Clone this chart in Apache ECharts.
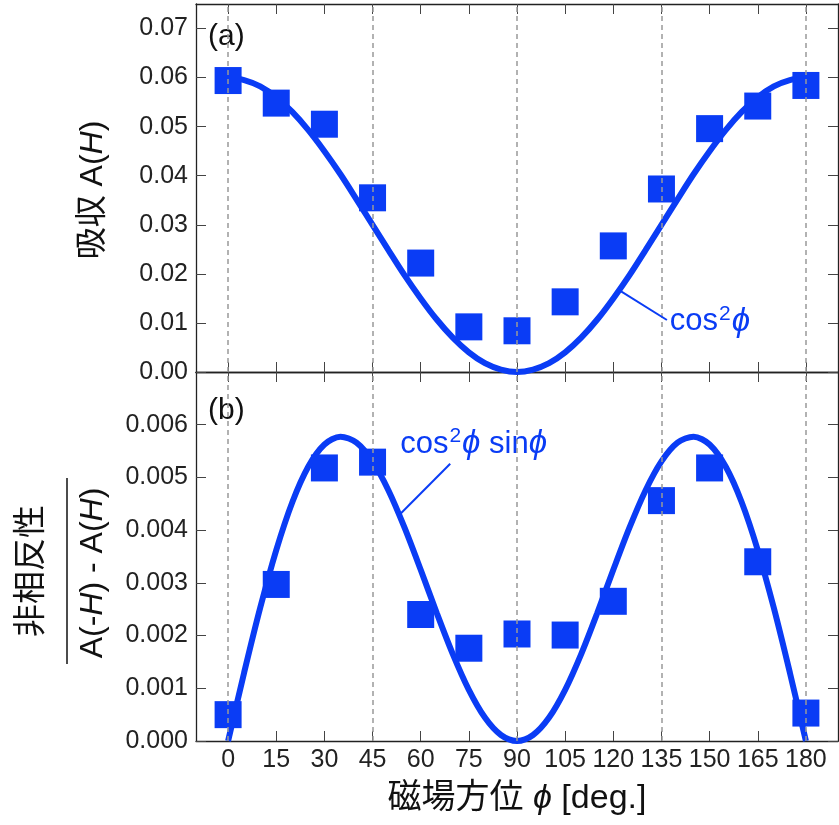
<!DOCTYPE html>
<html><head><meta charset="utf-8">
<script src="https://cdn.jsdelivr.net/npm/echarts@6/dist/echarts.min.js"></script>
<style>html,body{margin:0;padding:0;background:#fff}#c{width:839px;height:825px}</style>
</head><body><div id="c"></div>
<script>
// ---- data ----
const phiDeg = [0, 15, 30, 45, 60, 75, 90, 105, 120, 135, 150, 165, 180];
const absorption = [0.0594, 0.0548, 0.0505, 0.0355, 0.0222, 0.0092, 0.0084, 0.0143, 0.0257, 0.0373, 0.0496, 0.0542, 0.0584];
const nonreciprocity = [0.00050, 0.00297, 0.00518, 0.00529, 0.00240, 0.00176, 0.00203, 0.00201, 0.00265, 0.00456, 0.00518, 0.00340, 0.00053];
// fitted curves read at 5-degree steps
const curvePhi = [0,5,10,15,20,25,30,35,40,45,50,55,60,65,70,75,80,85,90,95,100,105,110,115,120,125,130,135,140,145,150,155,160,165,170,175,180];
const curveA = [0.0600,0.0595,0.0582,0.0560,0.0530,0.0493,0.0450,0.0403,0.0352,0.0300,0.0248,0.0197,0.0150,0.0107,0.0070,0.0040,0.0018,0.0005,0.0000,
                0.0005,0.0018,0.0040,0.0070,0.0107,0.0150,0.0197,0.0248,0.0300,0.0352,0.0403,0.0450,0.0493,0.0530,0.0560,0.0582,0.0595,0.0600];
const curveB = [0.000000,0.001298,0.002526,0.003622,0.004530,0.005207,0.005625,0.005773,0.005658,0.005303,0.004748,0.004042,0.003248,0.002428,0.001649,0.000971,0.000445,0.000114,0.000000,
                0.000114,0.000445,0.000971,0.001649,0.002428,0.003248,0.004042,0.004748,0.005303,0.005658,0.005773,0.005625,0.005207,0.004530,0.003622,0.002526,0.001298,0.000000];
const xTicks = [0, 15, 30, 45, 60, 75, 90, 105, 120, 135, 150, 165, 180];
const yTicksTop = [0, 0.01, 0.02, 0.03, 0.04, 0.05, 0.06, 0.07];
const yTicksBottom = [0, 0.001, 0.002, 0.003, 0.004, 0.005, 0.006];
const dashedAt = [0, 45, 90, 135, 180];
const xRange = [-10, 190];
const yRangeTop = [0, 0.075];
const yRangeBottom = [0, 0.007];

const BLUE = '#0a3cf5';
const FONT = '"Liberation Sans", "Noto Sans CJK JP", sans-serif';
const PHI = 'ϕ';
const chart = echarts.init(document.getElementById('c'));

function xAx(grid, pos, labels) {
  return {
    type: 'value', gridIndex: grid, position: pos, min: xRange[0], max: xRange[1],
    axisLine: { show: true, onZero: false, lineStyle: { color: '#222', width: 1.3 } },
    axisTick: { show: true, inside: true, length: 10, customValues: xTicks, lineStyle: { color: '#444', width: 1 } },
    axisLabel: { show: labels, customValues: xTicks, color: '#222', fontSize: 25, fontFamily: FONT, margin: 7 },
    splitLine: { show: false }
  };
}
function yAx(grid, pos, labels, range, ticks, dec) {
  return {
    type: 'value', gridIndex: grid, position: pos, min: range[0], max: range[1],
    axisLine: { show: true, onZero: false, lineStyle: { color: '#222', width: 1.3 } },
    axisTick: { show: true, inside: true, length: 10, customValues: ticks, lineStyle: { color: '#444', width: 1 } },
    axisLabel: { show: labels, customValues: ticks, color: '#222', fontSize: 25, fontFamily: FONT, margin: 8,
                 formatter: v => v.toFixed(dec) },
    splitLine: { show: false }
  };
}
const dashLines = dashedAt.map(v => ({ xAxis: v, lineStyle: { type: [5, 4], color: '#999', width: 1.5 } }));

const option = {
  animation: false,
  grid: [
    { left: 196, top: 4, width: 642, height: 368 },
    { left: 196, top: 372, width: 642, height: 369 }
  ],
  xAxis: [
    xAx(0, 'bottom', false), xAx(0, 'top', false),
    Object.assign(xAx(1, 'bottom', true), {
      name: '磁場方位 {i|' + PHI + '} [deg.]', nameLocation: 'middle', nameGap: 41,
      nameTextStyle: { fontSize: 34, fontFamily: FONT, color: '#111',
        rich: { i: { fontSize: 34, fontStyle: 'italic', fontFamily: FONT, color: '#111' } } }
    }),
    xAx(1, 'top', false)
  ],
  yAxis: [
    yAx(0, 'left', true, yRangeTop, yTicksTop, 2), yAx(0, 'right', false, yRangeTop, yTicksTop, 2),
    yAx(1, 'left', true, yRangeBottom, yTicksBottom, 3), yAx(1, 'right', false, yRangeBottom, yTicksBottom, 3)
  ],
  series: [
    { type: 'line', xAxisIndex: 0, yAxisIndex: 0, data: curvePhi.map((p, i) => [p, curveA[i]]),
      smooth: 0.3, showSymbol: false, lineStyle: { color: BLUE, width: 6 }, z: 3, clip: true,
      markLine: { silent: true, symbol: 'none', label: { show: false }, animation: false,
        data: dashLines.concat([[{ coord: [121.8, 0.0167], lineStyle: { color: BLUE, width: 2, type: 'solid' } },
                                 { coord: [136.7, 0.0106] }]]) } },
    { type: 'scatter', xAxisIndex: 0, yAxisIndex: 0, data: phiDeg.map((p, i) => [p, absorption[i]]),
      symbol: 'rect', symbolSize: 27, itemStyle: { color: BLUE, opacity: 1 }, z: 4 },
    { type: 'line', xAxisIndex: 2, yAxisIndex: 2, data: curvePhi.map((p, i) => [p, curveB[i]]),
      smooth: 0.3, showSymbol: false, lineStyle: { color: BLUE, width: 6 }, z: 3, clip: true,
      markLine: { silent: true, symbol: 'none', label: { show: false }, animation: false,
        data: dashLines.concat([[{ coord: [53.7, 0.00431], lineStyle: { color: BLUE, width: 2, type: 'solid' } },
                                 { coord: [69.2, 0.00526] }]]) } },
    { type: 'scatter', xAxisIndex: 2, yAxisIndex: 2, data: phiDeg.map((p, i) => [p, nonreciprocity[i]]),
      symbol: 'rect', symbolSize: 27, itemStyle: { color: BLUE, opacity: 1 }, z: 4 }
  ]
};
chart.setOption(option);

const pA = chart.convertToPixel({ xAxisIndex: 0, yAxisIndex: 0 }, [137.6, 0.0102]);
const pB = chart.convertToPixel({ xAxisIndex: 2, yAxisIndex: 2 }, [53.6, 0.00563]);
const richAnn = {
  t: { fontSize: 31, fontFamily: FONT, fill: BLUE },
  s: { fontSize: 21, fontFamily: FONT, fill: BLUE, padding: [0, 1, 16, 1] },
  i: { fontStyle: 'italic', fontSize: 33, fontFamily: FONT, fill: BLUE }
};
chart.setOption({
  graphic: [
    { type: 'text', left: 208, top: 22, style: { text: '(a)', font: '30px ' + FONT, fill: '#111' } },
    { type: 'text', left: 208, top: 396, style: { text: '(b)', font: '30px ' + FONT, fill: '#111' } },
    { type: 'text', x: pA[0], y: pA[1], style: { text: '{t|cos}{s|2}{i|' + PHI + '}', font: '31px ' + FONT, fill: BLUE,
        textAlign: 'left', textVerticalAlign: 'middle', rich: richAnn } },
    { type: 'text', x: pB[0], y: pB[1], style: { text: '{t|cos}{s|2}{i|' + PHI + '}{t| sin}{i|' + PHI + '}', font: '31px ' + FONT, fill: BLUE,
        textAlign: 'left', textVerticalAlign: 'middle', rich: richAnn } },
    { type: 'text', x: 93, y: 190, rotation: Math.PI / 2,
      style: { text: '吸収 A({i|H})', font: '32px ' + FONT, fill: '#111', textAlign: 'center', textVerticalAlign: 'middle',
        rich: { i: { fontStyle: 'italic', fontSize: 32, fontFamily: FONT, fill: '#111' } } } },
    { type: 'text', x: 32, y: 571, rotation: Math.PI / 2,
      style: { text: '非相反性', font: '33px ' + FONT, fill: '#111', textAlign: 'center', textVerticalAlign: 'middle' } },
    { type: 'line', shape: { x1: 67, y1: 478, x2: 67, y2: 664 }, style: { stroke: '#111', lineWidth: 1.5 } },
    { type: 'text', x: 93, y: 573, rotation: Math.PI / 2,
      style: { text: 'A(-{i|H}) - A({i|H})', font: '32px ' + FONT, fill: '#111', textAlign: 'center', textVerticalAlign: 'middle',
        rich: { i: { fontStyle: 'italic', fontSize: 32, fontFamily: FONT, fill: '#111' } } } }
  ]
});
</script></body></html>
